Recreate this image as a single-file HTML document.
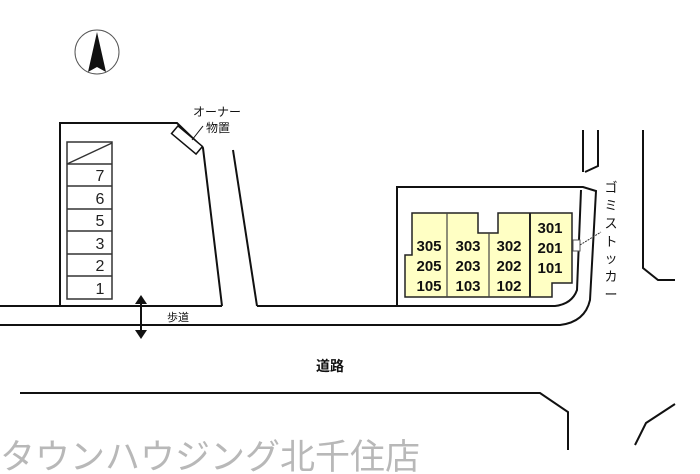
<!DOCTYPE html>
<html><head><meta charset="utf-8"><style>
html,body{margin:0;padding:0;background:#fff;}
svg{display:block;}
text{font-family:"Liberation Sans","Noto Sans CJK JP",sans-serif;}
</style></head><body>
<svg width="700" height="474" viewBox="0 0 700 474" xmlns="http://www.w3.org/2000/svg">
<g fill="none" stroke="#111" stroke-width="2">
<circle cx="97" cy="52" r="22" stroke-width="1" stroke="#555"/>
<polyline points="60,306 60,123 177,123 203,148 222,306"/>
<line x1="233" y1="150" x2="257" y2="306"/>
<line x1="0" y1="306" x2="222" y2="306"/>
<path d="M257,306 L555,306 Q572,304 577,290 L581,190"/>
<path d="M0,325 L560,325 Q585,322 590,300 L596,191 L583,187 L397,187 L397,306"/>
<polyline points="583,130 583,172"/>
<polyline points="598,130 598,166 585,172"/>
<polyline points="643,130 643,268 658,280 675,280"/>
<polyline points="20,393 540,393 568,412 568,450"/>
<polyline points="635,445 646,423 675,404"/>
</g>
<polygon points="97,32 88,72 97,67 106,72" fill="#111"/>
<g fill="none" stroke="#333" stroke-width="1.5">
<rect x="67" y="142" width="45" height="157"/>
<line x1="67" y1="164" x2="112" y2="164"/>
<line x1="67" y1="186" x2="112" y2="186"/>
<line x1="67" y1="209" x2="112" y2="209"/>
<line x1="67" y1="231" x2="112" y2="231"/>
<line x1="67" y1="254" x2="112" y2="254"/>
<line x1="67" y1="276" x2="112" y2="276"/>
<line x1="67" y1="164" x2="112" y2="143"/>
</g>
<g font-size="16" fill="#222" text-anchor="middle">
<text x="100" y="181">7</text><text x="100" y="204">6</text><text x="100" y="226">5</text>
<text x="100" y="249">3</text><text x="100" y="271">2</text><text x="100" y="294">1</text>
</g>
<rect x="171" y="135" width="32" height="10" transform="rotate(40 187 140)" fill="#fff" stroke="#111" stroke-width="1.5"/>
<line x1="192" y1="140" x2="203" y2="126" stroke="#111" stroke-width="1"/>
<text x="193" y="116" font-size="12" fill="#111">オーナー</text>
<text x="206" y="132" font-size="12" fill="#111">物置</text>
<line x1="141" y1="302" x2="141" y2="332" stroke="#111" stroke-width="2"/>
<polygon points="141,295 135,304 147,304" fill="#111"/>
<polygon points="141,339 135,330 147,330" fill="#111"/>
<text x="167" y="321" font-size="11" fill="#111">歩道</text>
<text x="330" y="371" font-size="14" font-weight="bold" fill="#111" text-anchor="middle">道路</text>
<path d="M412,213 L478,213 L478,233 L498,233 L498,213 L572,213 L572,283 L552,283 L552,297 L405,297 L405,255 L412,255 Z" fill="#ffffc4" stroke="#222" stroke-width="1.5"/>
<line x1="447" y1="213" x2="447" y2="297" stroke="#444" stroke-width="1.2"/>
<line x1="489" y1="233" x2="489" y2="297" stroke="#444" stroke-width="1.2"/>
<line x1="530" y1="213" x2="530" y2="297" stroke="#222" stroke-width="2"/>
<g font-size="15" font-weight="bold" fill="#111" text-anchor="middle" font-family="Liberation Sans">
<text x="429" y="251">305</text><text x="429" y="271">205</text><text x="429" y="291">105</text>
<text x="468" y="251">303</text><text x="468" y="271">203</text><text x="468" y="291">103</text>
<text x="509" y="251">302</text><text x="509" y="271">202</text><text x="509" y="291">102</text>
<text x="550" y="233">301</text><text x="550" y="253">201</text><text x="550" y="273">101</text>
</g>
<rect x="573" y="240" width="7" height="11" fill="#fff" stroke="#555" stroke-width="1"/>
<line x1="580" y1="245" x2="601" y2="232" stroke="#333" stroke-width="1" stroke-dasharray="2,1"/>
<g font-size="13" fill="#111" text-anchor="middle">
<text x="611" y="192">ゴ</text><text x="611" y="210">ミ</text><text x="611" y="228">ス</text>
<text x="611" y="246">ト</text><text x="611" y="263">ッ</text><text x="611" y="281">カ</text><text x="611" y="299">ー</text>
</g>
<text x="0" y="469" font-size="35" fill="#b8b8b8">タウンハウジング北千住店</text>
</svg>
</body></html>
